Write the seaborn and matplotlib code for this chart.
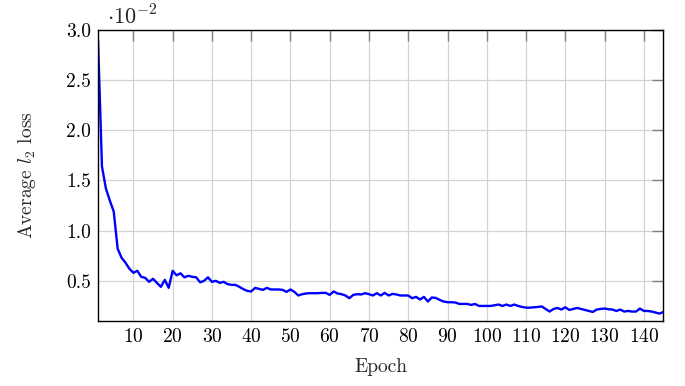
import matplotlib
matplotlib.use("Agg")
import matplotlib.pyplot as plt
import seaborn as sns
import numpy as np
import pandas as pd

# Average l2 loss per epoch, in units of 1e-2
loss_e2 = [
    2.90, 1.64, 1.42, 1.30, 1.19, 0.82, 0.73, 0.68, 0.62, 0.58,
    0.60, 0.54, 0.53, 0.49, 0.52, 0.48, 0.44, 0.51, 0.43, 0.60,
    0.555, 0.575, 0.535, 0.55, 0.54, 0.535, 0.485, 0.50, 0.535, 0.49,
    0.50, 0.48, 0.49, 0.467, 0.46, 0.46, 0.44, 0.417, 0.40, 0.394,
    0.43, 0.42, 0.41, 0.43, 0.414, 0.414, 0.414, 0.41, 0.39, 0.414,
    0.39, 0.354, 0.367, 0.374, 0.377, 0.377, 0.377, 0.38, 0.38, 0.36,
    0.394, 0.374, 0.367, 0.354, 0.327, 0.36, 0.367, 0.364, 0.377, 0.367,
    0.354, 0.377, 0.354, 0.38, 0.354, 0.37, 0.364, 0.354, 0.354, 0.354,
    0.327, 0.34, 0.314, 0.34, 0.294, 0.334, 0.33, 0.31, 0.294, 0.287,
    0.287, 0.284, 0.27, 0.27, 0.27, 0.26, 0.27, 0.25, 0.25, 0.25,
    0.25, 0.257, 0.264, 0.25, 0.264, 0.25, 0.264, 0.25, 0.24, 0.233,
    0.233, 0.236, 0.24, 0.245, 0.22, 0.194, 0.22, 0.23, 0.214, 0.237,
    0.21, 0.22, 0.23, 0.22, 0.21, 0.20, 0.19, 0.214, 0.22, 0.224,
    0.217, 0.214, 0.20, 0.214, 0.194, 0.20, 0.194, 0.194, 0.224, 0.20,
    0.20, 0.194, 0.184, 0.174, 0.19,
]
epochs = list(range(1, len(loss_e2) + 1))
x_ticks = [10, 20, 30, 40, 50, 60, 70, 80, 90, 100, 110, 120, 130, 140]
y_ticks = [0.5, 1.0, 1.5, 2.0, 2.5, 3.0]
y_tick_labels = ["0.5", "1.0", "1.5", "2.0", "2.5", "3.0"]

df = pd.DataFrame({"Epoch": epochs, "loss": loss_e2})

sns.set_theme(style="white")
plt.rcParams["font.family"] = ["cmr10", "DejaVu Serif"]
plt.rcParams["mathtext.fontset"] = "cm"
plt.rcParams["axes.formatter.use_mathtext"] = True
plt.rcParams["axes.unicode_minus"] = False

fig = plt.figure(figsize=(6.85, 3.86), dpi=100)
ax = fig.add_axes([0.1431, 0.1684, 0.9686 - 0.1431, 0.9228 - 0.1684])

sns.lineplot(data=df, x="Epoch", y="loss", ax=ax, color=(0, 0, 1), linewidth=1.7)

ax.set_xlim(1, 145)
ax.set_ylim(0.1, 3.0)
ax.set_xticks(x_ticks)
ax.set_yticks(y_ticks)
ax.set_yticklabels(y_tick_labels)
ax.grid(True, color="#d4d4d4", linewidth=0.9)
ax.set_axisbelow(True)
for s in ax.spines.values():
    s.set_color("black")
    s.set_linewidth(1.0)
ax.tick_params(axis="both", direction="in", length=8, width=1.0, color="#808080",
               labelsize=14, top=True, right=True, labelcolor="black", pad=5)
ax.set_xlabel("Epoch", fontsize=14, labelpad=9)
ax.set_ylabel(r"Average $l_2$ loss", fontsize=14, labelpad=20)
ax.text(0.016, 1.004, r"$\cdot 10^{-2}$", transform=ax.transAxes, fontsize=16,
        ha="left", va="bottom")

fig.savefig("out.png", dpi=100)
